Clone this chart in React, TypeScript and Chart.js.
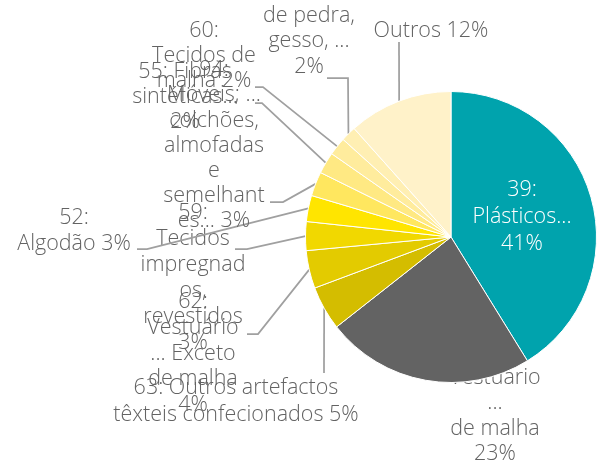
import React, { useEffect, useRef } from "react";
import { Chart, registerables } from "chart.js";

Chart.register(...registerables);

// ---- data ----
const categories = [
  "39: Plásticos...",
  "61: Vestuário ... de malha",
  "63: Outros artefactos têxteis confecionados",
  "62: Vestuário ... Exceto de malha",
  "59: Tecidos impregnados, revestidos",
  "52: Algodão",
  "94: Móveis; colchões, almofadas e semelhantes...",
  "55: Fibras sintéticas...",
  "60: Tecidos de malha",
  "68: Obras de pedra, gesso, ...",
  "Outros",
];
const shares = [41.2, 23.2, 4.9, 4.2, 3.2, 2.9, 2.7, 2.4, 2.0, 1.7, 11.6];
const labelLines = [
  ["39:", "Plásticos...", "{p}"],
  ["61:", "Vestuário", "...", "de malha", "{p}"],
  ["63: Outros artefactos", "têxteis confecionados {p}"],
  ["62:", "Vestuário", "... Exceto", "de malha", "{p}"],
  ["59:", "Tecidos", "impregnad", "os,", "revestidos", "{p}"],
  ["52:", "Algodão {p}"],
  ["94:", "Móveis; ...", "colchões,", "almofadas", "e", "semelhant", "es... {p}"],
  ["55: Fibras", "sintéticas...", "{p}"],
  ["60:", "Tecidos de", "malha {p}"],
  ["68: Obras", "de pedra,", "gesso, ...", "{p}"],
  ["Outros {p}"],
];
const colors = [
  "#00A3AD",
  "#636363",
  "#D4BD00",
  "#E3CB00",
  "#F1D800",
  "#FFE500",
  "#FFE75F",
  "#FFE983",
  "#FFEC9D",
  "#FFEFB3",
  "#FFF2C9",
];

// ---- label layout (relative to a reference pie centre at 451,237) ----
const REF_CX = 451;
const REF_CY = 237;
type Layout = { x: number; y: number; lh: number; stub: number[] | null; inside?: boolean };
const layout: Layout[] = [
  { x: 522, y: 190, lh: 27, stub: null, inside: true },
  { x: 495, y: 352, lh: 25.5, stub: null },
  { x: 236, y: 388, lh: 26.7, stub: [324, 373, 324] },
  { x: 193, y: 302, lh: 25.7, stub: [247, 334, 258] },
  { x: 193, y: 213, lh: 26, stub: [235, 249, 247] },
  { x: 74, y: 218, lh: 26, stub: [137, 249, 147] },
  { x: 214, y: 70, lh: 25.2, stub: [270, 202, 283] },
  { x: 185, y: 72, lh: 25, stub: [255, 103, 262] },
  { x: 204, y: 31, lh: 25, stub: [255, 87, 263] },
  { x: 309, y: -10, lh: 25.5, stub: [327, 78, 348] },
  { x: 431, y: 31, lh: 25, stub: [399, 42, 399] },
];

const FONT = '300 21.5px "Open Sans", "Noto Sans", sans-serif';
const TEXT_COLOR = "#636363";

function pct(i: number) {
  const total = shares.reduce((a, b) => a + b, 0);
  return Math.round((shares[i] / total) * 100) + "%";
}

function drawLabels(chart: any, inside: boolean) {
  const meta = chart.getDatasetMeta(0);
  if (!meta || !meta.data.length) return;
  const ctx = chart.ctx;
  const a0: any = meta.data[0];
  const cx = a0.x;
  const cy = a0.y;
  const dx = cx - REF_CX;
  const dy = cy - REF_CY;
  ctx.save();
  ctx.font = FONT;
  ctx.textAlign = "center";
  ctx.textBaseline = "middle";
  meta.data.forEach((arc: any, i: number) => {
    const L = layout[i];
    if (!!L.inside !== inside) return;
    if (L.stub && !inside) {
      const mid = (arc.startAngle + arc.endAngle) / 2;
      const R = arc.outerRadius;
      const ex = cx + R * Math.cos(mid);
      const ey = cy + R * Math.sin(mid);
      ctx.strokeStyle = "#a0a0a0";
      ctx.lineWidth = 1.75;
      ctx.beginPath();
      ctx.moveTo(L.stub[0] + dx, L.stub[1] + dy);
      ctx.lineTo(L.stub[2] + dx, L.stub[1] + dy);
      ctx.lineTo(ex, ey);
      ctx.stroke();
    }
    ctx.fillStyle = inside ? "#ffffff" : TEXT_COLOR;
    labelLines[i].forEach((ln, k) => {
      ctx.fillText(ln.replace("{p}", pct(i)), L.x + dx, L.y + dy + k * L.lh);
    });
  });
  ctx.restore();
}

const labelPlugin = {
  id: "pieLabels",
  beforeDatasetsDraw(chart: any) {
    drawLabels(chart, false);
  },
  afterDatasetsDraw(chart: any) {
    drawLabels(chart, true);
  },
};

export default function App() {
  const ref = useRef<HTMLCanvasElement | null>(null);
  useEffect(() => {
    if (!ref.current) return;
    const chart = new Chart(ref.current, {
      type: "pie",
      data: {
        labels: categories,
        datasets: [
          {
            data: shares,
            backgroundColor: colors,
            borderColor: "#ffffff",
            borderWidth: 1,
          },
        ],
      },
      options: {
        responsive: false,
        animation: false,
        layout: { padding: { left: 305, right: 7, top: 91, bottom: 80 } },
        plugins: {
          legend: { display: false },
          tooltip: { enabled: false },
        },
      },
      plugins: [labelPlugin],
    });
    return () => chart.destroy();
  }, []);
  return (
    <div style={{ position: "absolute", left: 0, top: 0, width: 604, height: 463, background: "#fff" }}>
      <canvas ref={ref} width={604} height={463} style={{ display: "block" }} />
    </div>
  );
}
